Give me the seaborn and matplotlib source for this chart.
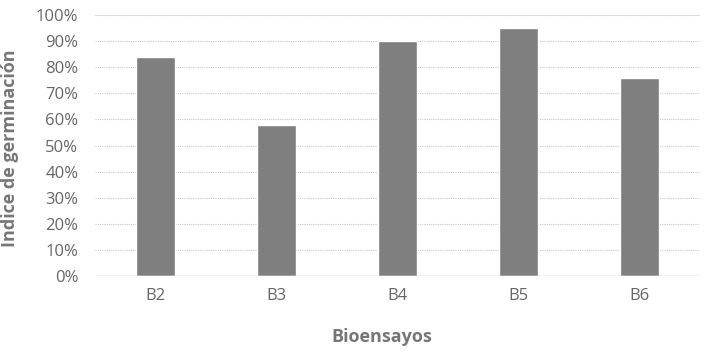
import matplotlib
matplotlib.use("Agg")
import matplotlib.pyplot as plt
import pandas as pd
import seaborn as sns
from matplotlib.ticker import PercentFormatter, MultipleLocator

bioensayos = ["B2", "B3", "B4", "B5", "B6"]
indice = [0.84, 0.58, 0.90, 0.95, 0.76]

df = pd.DataFrame({"Bioensayos": bioensayos, "Indice": indice})

sns.set_theme(style="white")
plt.rcParams["font.family"] = ["Open Sans", "DejaVu Sans"]

fig = plt.figure(figsize=(7.06, 3.51), dpi=100)
ax = fig.add_axes([0.1346, 0.2137, 0.857, 0.7433])

sns.barplot(data=df, x="Bioensayos", y="Indice", color="#7f7f7f",
            saturation=1, width=0.32, ax=ax, zorder=3)

ax.set_ylim(0, 1.0)
ax.set_xlim(-0.5, 4.5)
ax.yaxis.set_major_locator(MultipleLocator(0.1))
ax.yaxis.set_major_formatter(PercentFormatter(1.0, decimals=0))
ax.grid(axis="y", color="#c8c8c8", linestyle=(0, (1, 1)), linewidth=0.8, zorder=0)
ax.axhline(1.0, color="#d9d9d9", linewidth=1.2, zorder=1)
ax.axhline(0.0, color="#c8c8c8", linewidth=1.0, zorder=4)
for s in ax.spines.values():
    s.set_visible(False)

ax.tick_params(axis="both", length=0, labelsize=12, labelcolor="#666666")
ax.tick_params(axis="y", pad=12)
ax.tick_params(axis="x", pad=9)

ax.set_xlabel("Bioensayos", fontsize=13, fontweight="bold", color="#767676")
ax.xaxis.set_label_coords(0.474, -0.20)
ax.set_ylabel("Indice de germinación", fontsize=13, fontweight="bold", color="#767676")
ax.yaxis.set_label_coords(-0.125, 0.49)

fig.savefig("out.png", dpi=100)
